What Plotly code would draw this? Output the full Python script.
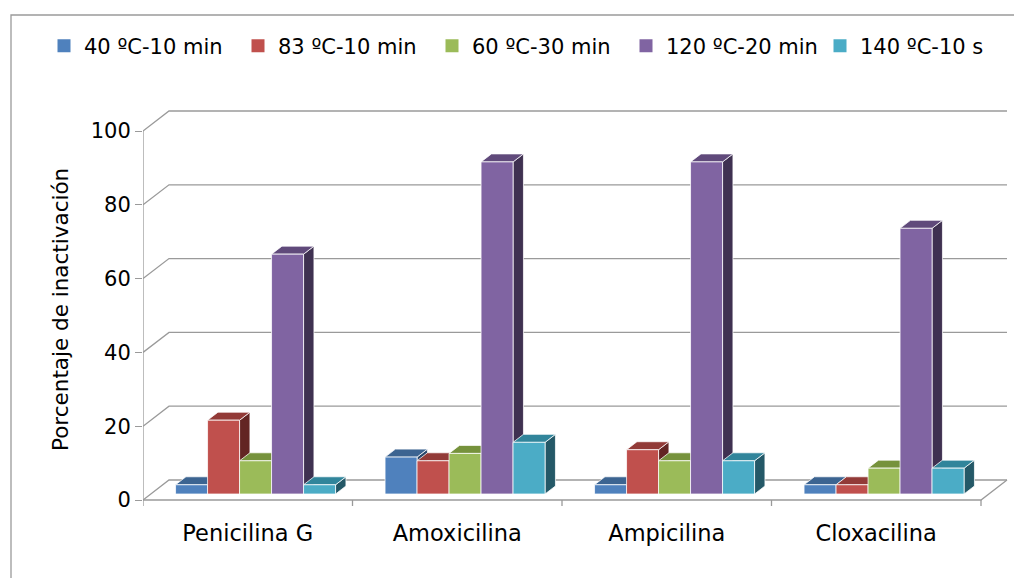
import plotly.graph_objects as go

# Data: inactivation percentage of each antibiotic under each heat treatment
antibiotics = ["Penicilina G", "Amoxicilina", "Ampicilina", "Cloxacilina"]
treatments = ["40 ºC-10 min", "83 ºC-10 min", "60 ºC-30 min", "120 ºC-20 min", "140 ºC-10 s"]
t40_10min = [2.5, 10, 2.5, 2.5]
t83_10min = [20, 9, 12, 2.5]
t60_30min = [9, 11, 9, 7]
t120_20min = [65, 90, 90, 72]
t140_10s = [2.5, 14, 9, 7]
y_ticks = [0, 20, 40, 60, 80, 100]

series = [t40_10min, t83_10min, t60_30min, t120_20min, t140_10s]
front_colors = ["#4f81bd", "#c0504d", "#9bbb59", "#8064a2", "#4bacc6"]
top_colors = ["#3c6491", "#923a37", "#76923c", "#604a7b", "#31859b"]
side_colors = ["#28476b", "#632523", "#4f6228", "#3f3151", "#245867"]

# Pseudo-3D geometry (x in category units, y in percentage units)
PX_X = 209.5           # pixels per category
PX_Y = 3.69            # pixels per percentage point
DEPTH_X = 26 / PX_X    # full floor depth, horizontal shift
DEPTH_Y = 20 / PX_Y    # full floor depth, vertical shift
BAR_W = 32 / PX_X
BAR_FRONT = 0.3        # depth fraction of the bar front faces
BAR_DEPTH = 0.4        # depth fraction occupied by the bars
GRID = "#9a9a9a"

fig = go.Figure()

# Legend swatches
for name, col in zip(treatments, front_colors):
    fig.add_trace(go.Scatter(x=[None], y=[None], mode="markers", name=name,
                             marker=dict(symbol="square", size=13, color=col),
                             showlegend=True))


def line(xs, ys, color=GRID, width=1.3):
    fig.add_trace(go.Scatter(x=xs, y=ys, mode="lines", showlegend=False,
                             hoverinfo="skip", line=dict(color=color, width=width)))


n_cat = len(antibiotics)
# back wall gridlines with their diagonal connectors to the front axis
for v in y_ticks:
    line([0, DEPTH_X, n_cat + DEPTH_X], [v, v + DEPTH_Y, v + DEPTH_Y])
# floor front edge and right edge
line([0, n_cat, n_cat + DEPTH_X], [0, 0, DEPTH_Y])
# front value axis
line([0, 0], [0, y_ticks[-1]])
# category boundary ticks below the floor
tick_len = 6 / PX_Y
xs, ys = [], []
for c in range(n_cat + 1):
    xs += [c, c, None]
    ys += [0, -tick_len, None]
line(xs, ys)


def poly(px, py, fill):
    fig.add_trace(go.Scatter(x=px + [px[0]], y=py + [py[0]], mode="lines",
                             fill="toself", fillcolor=fill, showlegend=False,
                             hoverinfo="skip",
                             line=dict(color="rgba(255,255,255,0.75)", width=1)))


dx = BAR_DEPTH * DEPTH_X
dy = BAR_DEPTH * DEPTH_Y
base = BAR_FRONT * DEPTH_Y
for c in range(n_cat):
    for s, vals in enumerate(series):
        xc = c + 0.5 + BAR_FRONT * DEPTH_X + (s - 2) * BAR_W
        xl, xr = xc - BAR_W / 2, xc + BAR_W / 2
        top = vals[c] + base
        # right side face
        poly([xr, xr + dx, xr + dx, xr], [base, base + dy, top + dy, top], side_colors[s])
        # top face
        poly([xl, xr, xr + dx, xl + dx], [top, top, top + dy, top + dy], top_colors[s])
        # front face
        poly([xl, xr, xr, xl], [base, base, top, top], front_colors[s])

# Outer chart frame
fig.add_shape(type="rect", xref="paper", yref="paper",
              x0=(11 - 143) / 867, x1=(1030 - 143) / 867,
              y0=(510 - 600) / 410, y1=(510 - 15) / 410,
              line=dict(color="#9a9a9a", width=1.3), fillcolor="rgba(0,0,0,0)", layer="below")

fig.add_annotation(text="Porcentaje de inactivación", textangle=-90,
                   xref="paper", yref="paper", x=(60 - 143) / 867, y=(510 - 310) / 410,
                   xanchor="center", yanchor="middle",
                   showarrow=False, font=dict(size=21.5, color="black"))

fig.update_layout(
    width=1014, height=578,
    margin=dict(l=143, r=4, t=100, b=68),
    paper_bgcolor="white", plot_bgcolor="white",
    font=dict(family="DejaVu Sans", size=21, color="black"),
    showlegend=True,
    legend=dict(orientation="h", x=(56 - 143) / 867, xanchor="left",
                y=(510 - 46) / 410, yanchor="middle", entrywidth=149,
                font=dict(size=21), bgcolor="rgba(0,0,0,0)"),
    xaxis=dict(range=[0, 867 / PX_X], showgrid=False, zeroline=False, showline=False,
               tickvals=[c + 0.5 for c in range(n_cat)], ticktext=antibiotics,
               tickfont=dict(size=22.5),
               ticks="", ticklabelstandoff=7, fixedrange=True),
    yaxis=dict(range=[-10 / PX_Y, 400 / PX_Y], showgrid=False, zeroline=False, showline=False,
               tickvals=y_ticks, ticks="outside", ticklen=7, tickcolor=GRID, tickwidth=1.3,
               fixedrange=True),
)

fig.write_html("out.html")
